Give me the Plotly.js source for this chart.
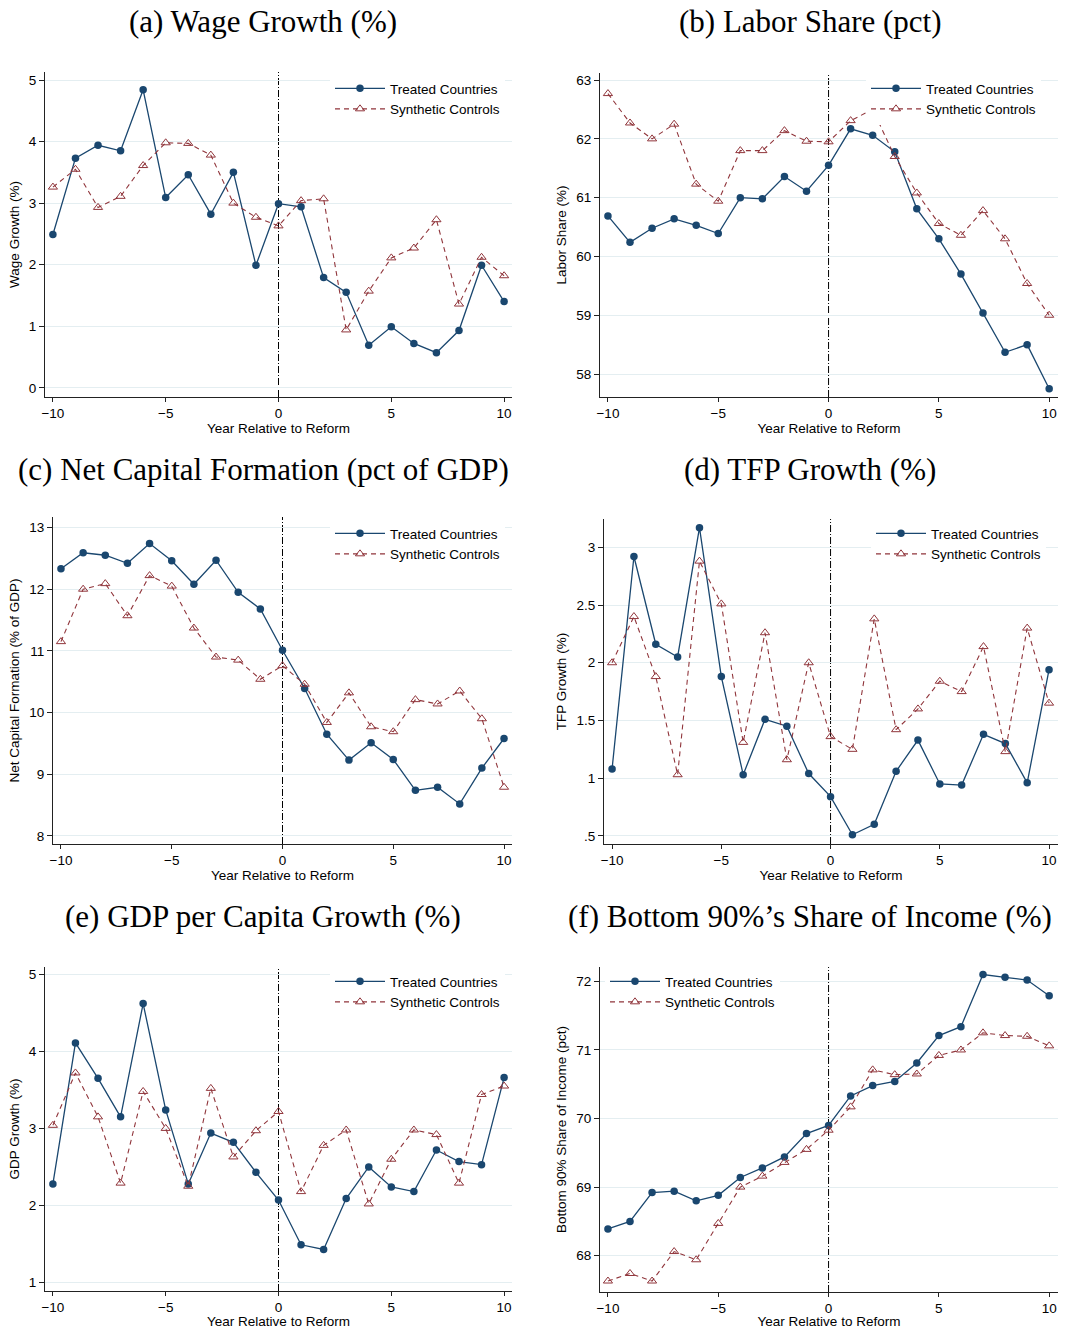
<!DOCTYPE html>
<html><head><meta charset="utf-8">
<script src="https://cdn.plot.ly/plotly-3.0.1.min.js"></script>
<style>body{margin:0;background:#fff}#chart{width:1072px;height:1329px}</style>
</head><body><div id="chart"></div>
<script>
// ---------- data ----------
const years = [-10,-9,-8,-7,-6,-5,-4,-3,-2,-1,0,1,2,3,4,5,6,7,8,9,10];
const seriesNames = ['Treated Countries', 'Synthetic Controls'];
const panelTitles = ['(a) Wage Growth (%)', '(b) Labor Share (pct)', '(c) Net Capital Formation (pct of GDP)',
                     '(d) TFP Growth (%)', '(e) GDP per Capita Growth (%)', "(f) Bottom 90%\u2019s Share of Income (%)"];
const yTitles = ['Wage Growth (%)', 'Labor Share (%)', 'Net Capital Formation (% of GDP)',
                 'TFP Growth (%)', 'GDP Growth (%)', 'Bottom 90% Share of Income (pct)'];
const xTitle = 'Year Relative to Reform';
const xTickVals = [-10, -5, 0, 5, 10];

const wageTreated = [2.49,3.73,3.94,3.85,4.84,3.09,3.46,2.82,3.50,1.99,2.99,2.94,1.79,1.55,0.69,0.99,0.72,0.57,0.93,1.99,1.40];
const wageSynth   = [3.26,3.55,2.93,3.11,3.61,3.98,3.97,3.78,3.00,2.77,2.63,3.04,3.07,0.94,1.57,2.11,2.27,2.73,1.36,2.12,1.82];

const laborTreated = [60.69,60.24,60.48,60.64,60.53,60.39,61.00,60.98,61.36,61.11,61.55,62.17,62.06,61.78,60.81,60.30,59.70,59.04,58.37,58.50,57.75];
const laborSynth   = [62.77,62.27,62.00,62.25,61.23,60.94,61.80,61.80,62.14,61.96,61.95,62.31,62.50,61.70,61.08,60.56,60.36,60.78,60.30,59.54,59.00];

const capTreated = [12.33,12.59,12.55,12.42,12.74,12.46,12.08,12.47,11.95,11.68,11.01,10.39,9.65,9.23,9.51,9.24,8.74,8.79,8.52,9.10,9.58];
const capSynth   = [11.15,12.00,12.09,11.57,12.22,12.05,11.37,10.90,10.85,10.54,10.76,10.46,9.84,10.32,9.77,9.69,10.21,10.14,10.35,9.90,8.79];

const tfpTreated = [1.08,2.92,2.16,2.05,3.17,1.88,1.03,1.51,1.45,1.04,0.84,0.51,0.60,1.06,1.33,0.95,0.94,1.38,1.30,0.96,1.94];
const tfpSynth   = [2.00,2.40,1.88,1.03,2.88,2.51,1.31,2.26,1.16,2.00,1.36,1.25,2.38,1.42,1.60,1.84,1.75,2.14,1.23,2.30,1.65];

const gdpTreated = [2.28,4.11,3.65,3.15,4.62,3.24,2.28,2.94,2.82,2.43,2.07,1.49,1.43,2.09,2.50,2.24,2.18,2.72,2.57,2.53,3.66];
const gdpSynth   = [3.04,3.72,3.15,2.29,3.48,3.00,2.25,3.52,2.63,2.97,3.22,2.18,2.78,2.98,2.02,2.60,2.98,2.92,2.29,3.44,3.55];

const b90Treated = [68.39,68.50,68.92,68.94,68.80,68.88,69.14,69.28,69.44,69.78,69.90,70.33,70.48,70.54,70.81,71.21,71.34,72.10,72.06,72.02,71.79];
const b90Synth   = [67.63,67.74,67.63,68.06,67.94,68.47,69.00,69.16,69.36,69.55,69.83,70.17,70.71,70.64,70.65,70.92,71.00,71.25,71.21,71.20,71.06];

const wageTicks  = [0,1,2,3,4,5];
const laborTicks = [58,59,60,61,62,63];
const capTicks   = [8,9,10,11,12,13];
const tfpTicks   = [0.5,1,1.5,2,2.5,3];
const tfpTickText = ['.5','1','1.5','2','2.5','3'];
const gdpTicks   = [1,2,3,4,5];
const b90Ticks   = [68,69,70,71,72];

// ---------- layout geometry (pixels) ----------
const W = 1072, H = 1329;
const px = v => v / W, py = v => 1 - v / H;
const panels = [
  {t: wageTreated,  s: wageSynth,  ticks: wageTicks,  tt: null, xr:[-10.35,10.35], yr:[-0.15,5.13],  box:[45,512,72,397],   title:[263,22],  leg:[330,73]},
  {t: laborTreated, s: laborSynth, ticks: laborTicks, tt: null, xr:[-10.36,10.4],  yr:[57.61,63.12], box:[600,1058,73,397], title:[810,22],  leg:[866,73]},
  {t: capTreated,   s: capSynth,   ticks: capTicks,   tt: null, xr:[-10.36,10.36], yr:[7.87,13.17],  box:[53,512,517,844],  title:[263,469], leg:[330,518]},
  {t: tfpTreated,   s: tfpSynth,   ticks: tfpTicks,   tt: tfpTickText, xr:[-10.37,10.41], yr:[0.43,3.245], box:[604,1058,519,844], title:[810,469], leg:[871,518]},
  {t: gdpTreated,   s: gdpSynth,   ticks: gdpTicks,   tt: null, xr:[-10.35,10.35], yr:[0.89,5.095],  box:[45,512,967,1291], title:[263,916], leg:[330,966]},
  {t: b90Treated,   s: b90Synth,   ticks: b90Ticks,   tt: null, xr:[-10.36,10.4],  yr:[67.47,72.21], box:[600,1058,967,1292], title:[810,916], leg:[605,966]}
];

const navy = '#1a476f', maroon = '#90353b';
const sans = 'Liberation Sans, Arial, sans-serif';
const fs = 13.5;
const data = [];
const layout = {
  width: W, height: H, margin: {l:0, r:0, t:0, b:0},
  paper_bgcolor: '#ffffff', plot_bgcolor: '#ffffff',
  showlegend: true, annotations: [], shapes: [],
  font: {family: sans, size: fs, color: '#000'}
};

panels.forEach((p, i) => {
  const n = i + 1;
  const xa = 'x' + (n > 1 ? n : ''), ya = 'y' + (n > 1 ? n : '');
  const lg = 'legend' + (n > 1 ? n : '');
  data.push({
    x: years, y: p.t, name: seriesNames[0], type: 'scatter', mode: 'lines+markers',
    xaxis: xa, yaxis: ya, legend: lg,
    line: {color: navy, width: 1.3},
    marker: {symbol: 'circle', size: 7.5, color: navy}
  });
  data.push({
    x: years, y: p.s, name: seriesNames[1], type: 'scatter', mode: 'lines+markers',
    xaxis: xa, yaxis: ya, legend: lg,
    line: {color: maroon, width: 1.1, dash: '5px,4px'},
    marker: {symbol: 'triangle-up-open', size: 8, color: maroon, line: {color: maroon, width: 1}}
  });
  const [x0, x1, y0, y1] = p.box;
  layout['xaxis' + (n > 1 ? n : '')] = {
    domain: [px(x0), px(x1)], range: p.xr, anchor: ya,
    tickmode: 'array', tickvals: xTickVals, ticks: 'outside', ticklen: 4, tickcolor: '#222',
    showline: true, linecolor: '#222', linewidth: 1, showgrid: false, zeroline: false,
    tickfont: {family: sans, size: fs, color: '#000'},
    title: {text: xTitle, font: {family: sans, size: fs, color: '#000'}, standoff: 0}
  };
  layout['yaxis' + (n > 1 ? n : '')] = {
    domain: [py(y1), py(y0)], range: p.yr, anchor: xa,
    tickmode: 'array', tickvals: p.ticks, ticktext: p.tt || p.ticks.map(String),
    ticks: 'outside', ticklen: 5, tickcolor: '#222',
    showline: true, linecolor: '#222', linewidth: 1,
    showgrid: true, gridcolor: '#e4eef1', gridwidth: 1, zeroline: false,
    tickfont: {family: sans, size: fs, color: '#000'},
    title: {text: yTitles[i], font: {family: sans, size: fs, color: '#000'}, standoff: 6}
  };
  layout[lg] = {
    x: px(p.leg[0]), y: py(p.leg[1]), xanchor: 'left', yanchor: 'top',
    bgcolor: '#ffffff', borderwidth: 0, itemwidth: 50,
    font: {family: sans, size: fs, color: '#000'}, traceorder: 'normal'
  };
  layout.shapes.push({
    type: 'line', xref: xa, yref: ya + ' domain', x0: 0, x1: 0, y0: 0, y1: 1,
    layer: 'below', line: {color: '#000', width: 1, dash: '7px,2px,1px,2px'}
  });
  layout.annotations.push({
    text: panelTitles[i], xref: 'paper', yref: 'paper', x: px(p.title[0]), y: py(p.title[1]),
    xanchor: 'center', yanchor: 'middle', showarrow: false,
    font: {family: 'Liberation Serif, Times New Roman, serif', size: 31, color: '#000'}
  });
});

Plotly.newPlot('chart', data, layout, {displayModeBar: false, staticPlot: true});
</script>
</body></html>
